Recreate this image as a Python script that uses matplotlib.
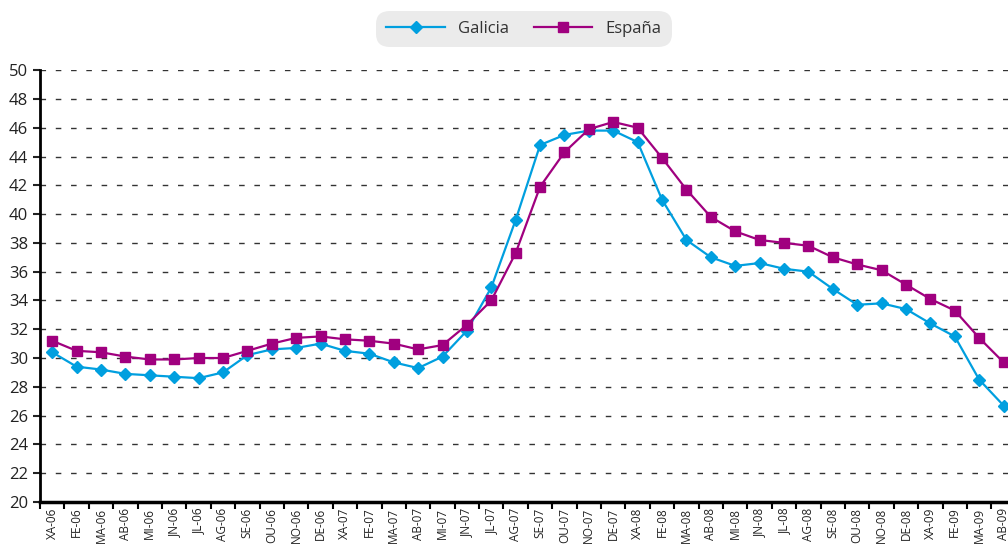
import matplotlib.pyplot as plt
import numpy as np

months = ['XA', 'FE', 'MA', 'AB', 'MI', 'JN', 'JL', 'AG', 'SE', 'OU', 'NO', 'DE']
labels = [f'{m}-{y:02d}' for y in (6, 7, 8) for m in months] + ['XA-09', 'FE-09', 'MA-09', 'AB-09']

galicia = [30.4, 29.4, 29.2, 28.9, 28.8, 28.7, 28.6, 29.0, 30.2, 30.6, 30.7, 31.0,
           30.5, 30.3, 29.7, 29.3, 30.1, 31.9, 34.9, 39.6, 44.8, 45.5, 45.8, 45.8,
           45.0, 41.0, 38.2, 37.0, 36.4, 36.6, 36.2, 36.0, 34.8, 33.7, 33.8, 33.4,
           32.4, 31.5, 28.5, 26.7]
espana = [31.2, 30.5, 30.4, 30.1, 29.9, 29.9, 30.0, 30.0, 30.5, 31.0, 31.4, 31.5,
          31.3, 31.2, 31.0, 30.6, 30.9, 32.3, 34.0, 37.3, 41.9, 44.3, 45.9, 46.4,
          46.0, 43.9, 41.7, 39.8, 38.8, 38.2, 38.0, 37.8, 37.0, 36.5, 36.1, 35.1,
          34.1, 33.3, 31.4, 29.7]

plt.rcParams['font.family'] = ['Open Sans', 'DejaVu Sans']

fig = plt.figure(figsize=(10.08, 5.48), dpi=100)
ax = fig.add_axes([0.0397, 0.084, 0.968, 0.788])

x = np.arange(len(labels))
ax.plot(x, galicia, color='#009FDF', marker='D', markersize=6.5, linewidth=1.6, label='Galicia')
ax.plot(x, espana, color='#A0007F', marker='s', markersize=7, linewidth=1.6, label='España')

ax.set_xlim(-0.5, len(labels) - 0.5)
ax.set_ylim(20, 50)
ax.set_yticks(range(20, 51, 2))
ax.tick_params(axis='y', labelsize=12, length=5, width=1.5, direction='out', colors='#222222')
ax.set_xticks(x)
ax.set_xticklabels(labels, rotation=90, fontsize=8.5, color='#222222')
ax.set_xticks(np.arange(-0.5, len(labels)), minor=True)
ax.tick_params(axis='x', which='major', length=0, pad=4)
ax.tick_params(axis='x', which='minor', length=5, width=1.5, direction='out')

ax.yaxis.grid(True, linestyle=(0, (4, 7)), color='#333333', linewidth=1)
ax.set_axisbelow(True)
for s in ['top', 'right']:
    ax.spines[s].set_visible(False)
ax.spines['left'].set_linewidth(2)
ax.spines['bottom'].set_linewidth(2.5)

leg = fig.legend(loc='upper center', bbox_to_anchor=(0.52, 0.995), ncol=2, fontsize=12,
                 frameon=True, fancybox=True, handlelength=3.5, columnspacing=1.5,
                 borderpad=0.6, labelcolor='#333333')
frame = leg.get_frame()
frame.set_facecolor('#EBEBEB')
frame.set_edgecolor('none')
frame.set_alpha(1)
frame.set_boxstyle('round', pad=0, rounding_size=0.8)

plt.savefig('out.png', dpi=100)
